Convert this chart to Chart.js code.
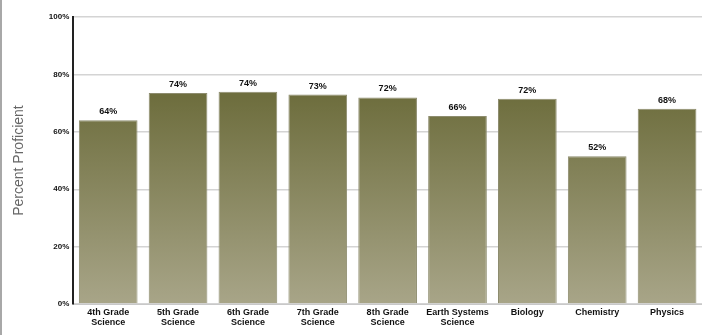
<!DOCTYPE html>
<html>
<head>
<meta charset="utf-8">
<script src="https://cdn.jsdelivr.net/npm/chart.js@4"></script>
<style>
  html, body { margin: 0; padding: 0; background: #fff; }
  #wrap { position: relative; width: 702px; height: 335px; box-sizing: border-box; border-left: 2px solid #a8a8a8; }
</style>
</head>
<body>
<div id="wrap"><canvas id="chartProficient" width="700" height="335"></canvas></div>
<script>
/* Porcentaje proficiente por curso */
const subjects = [
  ['4th Grade', 'Science'],
  ['5th Grade', 'Science'],
  ['6th Grade', 'Science'],
  ['7th Grade', 'Science'],
  ['8th Grade', 'Science'],
  ['Earth Systems', 'Science'],
  'Biology',
  'Chemistry',
  'Physics',
];
const proficient = [64, 73.5, 74, 73, 72, 65.5, 71.5, 51.5, 68];
const barLabels = ['64%', '74%', '74%', '73%', '72%', '66%', '72%', '52%', '68%'];
const yTicks = [0, 20, 40, 60, 80, 100];

const barGradient = (ctx) => {
  const area = ctx.chart.chartArea;
  if (!area) return '#8a8860';
  const g = ctx.chart.ctx.createLinearGradient(0, area.top + 80, 0, area.bottom);
  g.addColorStop(0, '#6e6e3e');
  g.addColorStop(1, '#a8a588');
  return g;
};

/* etiquetas sobre las barras */
const topLabels = {
  id: 'topLabels',
  afterDatasetsDraw(chart) {
    const c = chart.ctx;
    const meta = chart.getDatasetMeta(0);
    c.save();
    c.font = 'bold 9px "Liberation Sans", Arial, sans-serif';
    c.fillStyle = '#111';
    c.textAlign = 'center';
    c.textBaseline = 'bottom';
    meta.data.forEach((bar, i) => {
      c.fillText(barLabels[i], bar.x, bar.y - 4);
    });
    c.restore();
  },
};

const ctx = document.getElementById('chartProficient').getContext('2d');
const myChart = new Chart(ctx, {
  type: 'bar',
  plugins: [topLabels],
  data: {
    labels: subjects,
    datasets: [
      {
        data: proficient,
        backgroundColor: barGradient,
        borderColor: '#8d8c6e',
        borderWidth: 1,
        barPercentage: 0.84,
        categoryPercentage: 1,
      },
    ],
  },
  options: {
    responsive: false,
    animation: false,
    layout: { padding: { top: 17, right: 0, left: 4, bottom: 4 } },
    scales: {
      x: {
        grid: { display: false, drawTicks: false },
        border: { display: true, color: '#c8c8c8', width: 1 },
        ticks: {
          color: '#111',
          padding: 4,
          maxRotation: 0,
          autoSkip: false,
          font: { size: 9, weight: 'bold', family: '"Liberation Sans", Arial, sans-serif', lineHeight: 1.05 },
        },
      },
      y: {
        min: 0,
        max: 100,
        afterBuildTicks: (axis) => {
          axis.ticks = yTicks.map((v) => ({ value: v }));
        },
        grid: { color: '#d4d4d4', lineWidth: 1.5, drawTicks: false },
        border: { display: true, color: '#222', width: 2 },
        title: {
          display: true,
          text: 'Percent Proficient',
          color: '#666',
          padding: { top: 5, bottom: 17 },
          font: { size: 14, family: '"Liberation Sans", Arial, sans-serif' },
        },
        ticks: {
          color: '#111',
          padding: 4,
          callback: (v) => v + '%',
          font: { size: 8, weight: 'bold', family: '"Liberation Sans", Arial, sans-serif' },
        },
      },
    },
    plugins: {
      legend: { display: false },
      tooltip: { enabled: false },
    },
  },
});
</script>
</body>
</html>
